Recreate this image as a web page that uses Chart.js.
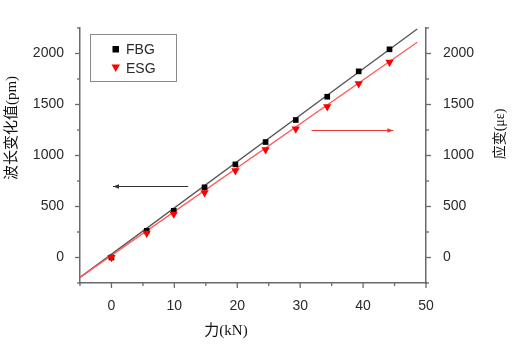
<!DOCTYPE html>
<html><head><meta charset="utf-8">
<script src="https://cdn.jsdelivr.net/npm/chart.js@4"></script>
<style>html,body{margin:0;padding:0;background:#fff;}canvas{display:block;}</style>
</head><body>
<canvas id="c" width="519" height="356"></canvas>
<script>
const forceKN = [0, 5.6, 9.9, 14.8, 19.7, 24.5, 29.3, 34.3, 39.3, 44.2];
const fbgPm   = [0, 262, 458, 688, 913, 1132, 1348, 1576, 1825, 2041];
const esgUe   = [0, 238, 426, 635, 851, 1057, 1260, 1478, 1704, 1914];
const fitX    = [-5, 48.6];
const fbgFit  = [-195, 2240];
const esgFit  = [-195, 2110];
const xTicks  = [0, 10, 20, 30, 40, 50];
const yTicks  = [0, 500, 1000, 1500, 2000];
const seriesNames = ['FBG', 'ESG'];
const xTitle = '力(kN)';
const yTitle = '波长变化值(pm)';
const y2Title = '应变(με)';

const AX = '#6a6a6a';
const TXT = '#2a2a2a';
const tickFont = {family: '"Liberation Sans", Arial, sans-serif', size: 14};
const plain = v => String(v);

const pts = (xs, ys) => xs.map((x, i) => ({x, y: ys[i]}));

const deco = {
  id: 'deco',
  afterDraw(chart) {
    const ctx = chart.ctx, xs = chart.scales.x, ys = chart.scales.y, ca = chart.chartArea;
    ctx.save();
    ctx.strokeStyle = AX; ctx.lineWidth = 1.3;
    for (let v = -5; v <= 50; v += 5) {
      const px = xs.getPixelForValue(v);
      const len = (v % 10 === 0) ? 5 : 3;
      ctx.beginPath(); ctx.moveTo(px, ca.bottom); ctx.lineTo(px, ca.bottom + len); ctx.stroke();
    }
    for (let v = -250; v <= 2250; v += 250) {
      const py = ys.getPixelForValue(v);
      const len = (v % 500 === 0) ? 5 : 3;
      ctx.beginPath(); ctx.moveTo(ca.left, py); ctx.lineTo(ca.left - len, py); ctx.stroke();
      ctx.beginPath(); ctx.moveTo(ca.right, py); ctx.lineTo(ca.right + len, py); ctx.stroke();
    }
    ctx.strokeStyle = '#8a8a8a'; ctx.lineWidth = 1;
    ctx.strokeRect(90.5, 34.5, 86, 47);
    ctx.fillStyle = '#000';
    ctx.fillRect(112.5, 46, 6.5, 6.5);
    ctx.fillStyle = '#ff0000';
    ctx.beginPath(); ctx.moveTo(111.5, 64.5); ctx.lineTo(120, 64.5); ctx.lineTo(115.75, 72); ctx.closePath(); ctx.fill();
    ctx.fillStyle = TXT;
    ctx.font = '14px "Liberation Sans", Arial, sans-serif';
    ctx.textAlign = 'left'; ctx.textBaseline = 'middle';
    ctx.fillText(seriesNames[0], 126, 50);
    ctx.fillText(seriesNames[1], 126, 69);
    const arrow = (x1, x2, yv, color, headLeft) => {
      const a = xs.getPixelForValue(x1), b = xs.getPixelForValue(x2), py = Math.round(ys.getPixelForValue(yv)) + 0.5;
      ctx.strokeStyle = color; ctx.fillStyle = color; ctx.lineWidth = 1;
      ctx.beginPath(); ctx.moveTo(a, py); ctx.lineTo(b, py); ctx.stroke();
      const tip = headLeft ? a : b, d = headLeft ? 6 : -6;
      ctx.beginPath(); ctx.moveTo(tip, py); ctx.lineTo(tip + d, py - 2.2); ctx.lineTo(tip + d, py + 2.2); ctx.closePath(); ctx.fill();
    };
    arrow(0.25, 12.2, 700, '#333333', true);
    arrow(31.8, 44.8, 1250, '#ee3333', false);
    ctx.fillStyle = '#111';
    ctx.font = '15px "Liberation Serif", "Noto Sans CJK SC", serif';
    ctx.textAlign = 'center'; ctx.textBaseline = 'middle';
    ctx.fillText(xTitle, 226, 331);
    ctx.save(); ctx.translate(12, 128); ctx.rotate(-Math.PI / 2); ctx.fillText(yTitle, 0, 0); ctx.restore();
    ctx.font = '14px "Liberation Serif", "Noto Sans CJK SC", serif';
    ctx.save(); ctx.translate(500, 134); ctx.rotate(-Math.PI / 2); ctx.fillText(y2Title, 0, 0); ctx.restore();
    ctx.restore();
  }
};

new Chart(document.getElementById('c'), {
  type: 'scatter',
  data: {
    datasets: [
      {label: 'FBG fit', data: pts(fitX, fbgFit), showLine: true, borderColor: '#555555', borderWidth: 1.3, pointRadius: 0, yAxisID: 'y', order: 3},
      {label: 'ESG fit', data: pts(fitX, esgFit), showLine: true, borderColor: '#ff5a5a', borderWidth: 1.3, pointRadius: 0, yAxisID: 'y2', order: 2},
      {label: seriesNames[0], data: pts(forceKN, fbgPm), pointStyle: 'rect', pointRadius: 4, backgroundColor: '#000', borderColor: '#000', borderWidth: 0, yAxisID: 'y', order: 1},
      {label: seriesNames[1], data: pts(forceKN, esgUe), pointStyle: 'triangle', rotation: 180, pointRadius: 4.8, backgroundColor: '#ff0000', borderColor: '#ff0000', borderWidth: 0, yAxisID: 'y2', order: 0}
    ]
  },
  options: {
    responsive: false, animation: false, devicePixelRatio: 1,
    layout: {padding: {top: 28, left: 0, right: 0, bottom: 0}},
    plugins: {legend: {display: false}, tooltip: {enabled: false}},
    scales: {
      x: {
        type: 'linear', min: -5, max: 50,
        afterBuildTicks: s => { s.ticks = xTicks.map(v => ({value: v})); },
        ticks: {font: tickFont, color: TXT, padding: 7, maxRotation: 0, callback: plain},
        grid: {display: false}, border: {display: true, color: AX, width: 1.5},
        afterFit: s => { s.height = 73; }
      },
      y: {
        type: 'linear', position: 'left', min: -250, max: 2250,
        afterBuildTicks: s => { s.ticks = yTicks.map(v => ({value: v})); },
        ticks: {font: tickFont, color: TXT, padding: 8, callback: plain},
        grid: {display: false}, border: {display: true, color: AX, width: 1.5},
        afterFit: s => { s.width = 80; }
      },
      y2: {
        type: 'linear', position: 'right', min: -250, max: 2250,
        afterBuildTicks: s => { s.ticks = yTicks.map(v => ({value: v})); },
        ticks: {font: tickFont, color: TXT, padding: 9, callback: plain},
        grid: {display: false}, border: {display: true, color: AX, width: 1.5},
        afterFit: s => { s.width = 93; }
      }
    }
  },
  plugins: [deco]
});
</script>
</body></html>
